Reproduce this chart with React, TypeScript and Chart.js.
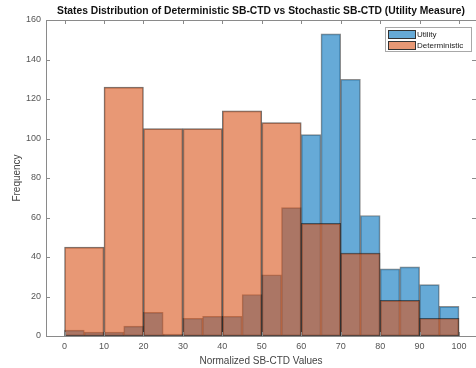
import React, { useEffect, useRef } from 'react';
import { Chart, registerables } from 'chart.js';

Chart.register(...registerables);

const FONT = '"Liberation Sans", Arial, Helvetica, sans-serif';

const titleText = 'States Distribution of Deterministic SB-CTD vs Stochastic SB-CTD (Utility Measure)';
const xAxisTitle = 'Normalized SB-CTD Values';
const yAxisTitle = 'Frequency';

const utilityBinCenters = [2.5, 7.5, 12.5, 17.5, 22.5, 27.5, 32.5, 37.5, 42.5, 47.5, 52.5, 57.5, 62.5, 67.5, 72.5, 77.5, 82.5, 87.5, 92.5, 97.5];
const utilityCounts = [3, 2, 2, 5, 12, 1, 9, 10, 10, 21, 31, 65, 102, 153, 130, 61, 34, 35, 26, 15];

const deterministicBinCenters = [5, 15, 25, 35, 45, 55, 65, 75, 85, 95];
const deterministicCounts = [45, 126, 105, 105, 114, 108, 57, 42, 18, 9];

const xTickValues = [0, 10, 20, 30, 40, 50, 60, 70, 80, 90, 100];
const yTickValues = [0, 20, 40, 60, 80, 100, 120, 140, 160];

const X_MIN = -4.7;
const X_MAX = 104.3;

const UTILITY_FILL = 'rgba(0,114,189,0.6)';
const DETERMINISTIC_FILL = 'rgba(217,83,25,0.6)';
const AXIS_COLOR = '#8a8a8a';
const TICK_TEXT = '#555555';

const boxPlugin = {
  id: 'matlabBox',
  afterDraw(chart: any) {
    const { ctx, chartArea, scales } = chart;
    const { left, right, top, bottom } = chartArea;
    const x = scales.x;
    const y = scales.y;
    ctx.save();

    // title centred over the axes box
    ctx.font = 'bold 10.3px ' + FONT;
    ctx.fillStyle = '#111111';
    ctx.textAlign = 'center';
    ctx.textBaseline = 'middle';
    ctx.fillText(titleText, (left + right) / 2, 11.5);

    ctx.strokeStyle = AXIS_COLOR;
    ctx.lineWidth = 1;
    ctx.beginPath();
    ctx.moveTo(left, top + 0.5);
    ctx.lineTo(right, top + 0.5);
    xTickValues.forEach((v) => {
      const px = Math.round(x.getPixelForValue(v)) + 0.5;
      ctx.moveTo(px, top);
      ctx.lineTo(px, top + 4);
      ctx.moveTo(px, bottom);
      ctx.lineTo(px, bottom - 4);
    });
    yTickValues.forEach((v) => {
      const py = Math.round(y.getPixelForValue(v)) + 0.5;
      ctx.moveTo(left, py);
      ctx.lineTo(left + 4, py);
      ctx.moveTo(right, py);
      ctx.lineTo(right - 4, py);
    });
    ctx.stroke();

    // legend box
    const lx = 385.5, ly = 27.5, lw = 86, lh = 24;
    ctx.fillStyle = '#ffffff';
    ctx.fillRect(lx, ly, lw, lh);
    ctx.strokeStyle = '#a8a8a8';
    ctx.strokeRect(lx, ly, lw, lh);
    const items = [
      { label: chart.data.datasets[0].label, fill: UTILITY_FILL, y: 30.5 },
      { label: chart.data.datasets[1].label, fill: DETERMINISTIC_FILL, y: 41.5 },
    ];
    ctx.font = '8px ' + FONT;
    ctx.textBaseline = 'middle';
    ctx.textAlign = 'left';
    items.forEach((it) => {
      ctx.fillStyle = '#ffffff';
      ctx.fillRect(388.5, it.y, 27, 8);
      ctx.fillStyle = it.fill;
      ctx.fillRect(388.5, it.y, 27, 8);
      ctx.strokeStyle = '#333333';
      ctx.strokeRect(388.5, it.y, 27, 8);
      ctx.fillStyle = '#222222';
      ctx.fillText(it.label, 417, it.y + 4.5);
    });
    ctx.restore();
  },
};

export default function App() {
  const canvasRef = useRef<HTMLCanvasElement | null>(null);

  useEffect(() => {
    document.body.style.margin = '0';
    const canvas = canvasRef.current;
    if (!canvas) return;
    const tickFont = { family: FONT, size: 9 };
    const chart = new Chart(canvas, {
      type: 'bar',
      data: {
        datasets: [
          {
            label: 'Utility',
            data: utilityBinCenters.map((c, i) => ({ x: c, y: utilityCounts[i] })),
            xAxisID: 'x',
            yAxisID: 'y',
            backgroundColor: UTILITY_FILL,
            borderColor: 'rgba(30,30,30,0.5)',
            borderWidth: 1,
            borderSkipped: false,
            barPercentage: 1,
            categoryPercentage: 1,
            grouped: false,
            order: 2,
          } as any,
          {
            label: 'Deterministic',
            data: deterministicBinCenters.map((c, i) => ({ x: c, y: deterministicCounts[i] })),
            xAxisID: 'x2',
            yAxisID: 'y',
            backgroundColor: DETERMINISTIC_FILL,
            borderColor: 'rgba(20,20,20,0.6)',
            borderWidth: 1,
            borderSkipped: false,
            barPercentage: 1,
            categoryPercentage: 1,
            grouped: false,
            order: 1,
          } as any,
        ],
      },
      options: {
        responsive: false,
        animation: false,
        layout: { padding: { top: 20, left: 0, right: 0, bottom: 0 } },
        plugins: {
          legend: { display: false },
          tooltip: { enabled: false },
          title: { display: false },
        },
        scales: {
          x: {
            type: 'linear',
            min: X_MIN,
            max: X_MAX,
            offset: false,
            afterBuildTicks: (s: any) => {
              s.ticks = xTickValues.map((v) => ({ value: v }));
            },
            afterFit: (s: any) => {
              s.height = 32;
            },
            grid: { display: false, drawTicks: false, offset: false },
            border: { display: true, color: AXIS_COLOR, width: 1 },
            ticks: { font: tickFont, color: TICK_TEXT, padding: 5, maxRotation: 0, autoSkip: false },
            title: {
              display: true,
              text: xAxisTitle,
              color: '#444444',
              font: { family: FONT, size: 10 },
              padding: { top: 0, bottom: 1 },
            },
          },
          x2: {
            type: 'linear',
            min: X_MIN,
            max: X_MAX,
            offset: false,
            display: false,
            grid: { offset: false },
          },
          y: {
            type: 'linear',
            min: 0,
            max: 160,
            afterBuildTicks: (s: any) => {
              s.ticks = yTickValues.map((v) => ({ value: v }));
            },
            afterFit: (s: any) => {
              s.width = 46;
            },
            grid: { display: false, drawTicks: false },
            border: { display: true, color: AXIS_COLOR, width: 1 },
            ticks: { font: tickFont, color: TICK_TEXT, padding: 5 },
            title: {
              display: true,
              text: yAxisTitle,
              color: '#444444',
              font: { family: FONT, size: 10 },
              padding: { top: 11.5, bottom: 0 },
            },
          },
        },
      } as any,
      plugins: [boxPlugin],
    });
    return () => chart.destroy();
  }, []);

  return (
    <div style={{ width: 476, height: 368 }}>
      <canvas ref={canvasRef} width={476} height={368} style={{ display: 'block' }} />
    </div>
  );
}
